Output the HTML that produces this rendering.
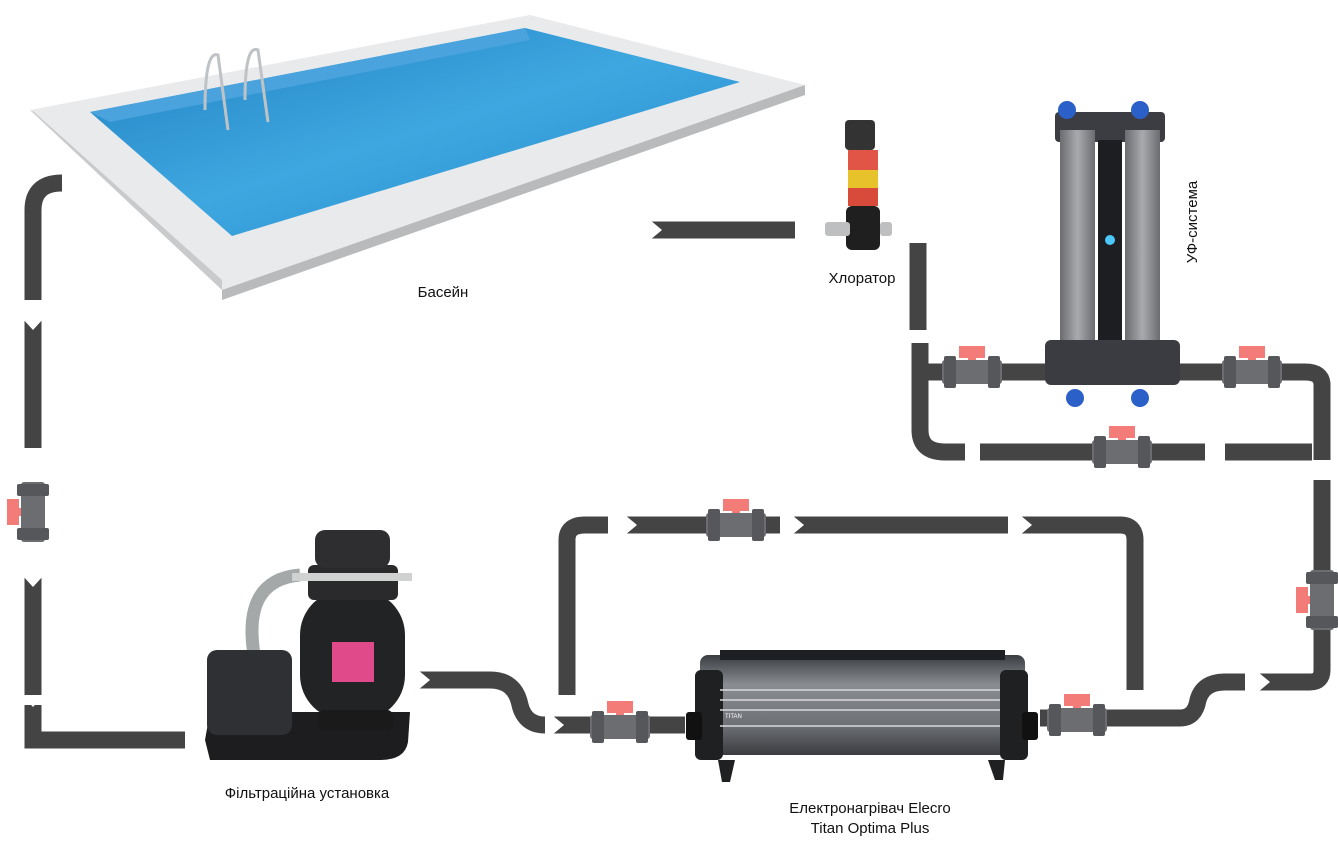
<!DOCTYPE html>
<html><head><meta charset="utf-8"><style>
html,body{margin:0;padding:0;background:#fff;}
svg{display:block}
text{font-family:"Liberation Sans",sans-serif;fill:#111;font-size:15px}
</style></head><body>
<svg width="1338" height="850" viewBox="0 0 1338 850" xmlns="http://www.w3.org/2000/svg">
<defs>
<linearGradient id="water" x1="0" y1="0" x2="1" y2="1"><stop offset="0" stop-color="#1e7fc0"/><stop offset="0.5" stop-color="#3fa7e0"/><stop offset="1" stop-color="#1f86c8"/></linearGradient>
<linearGradient id="heat" x1="0" y1="0" x2="0" y2="1"><stop offset="0" stop-color="#3a3d42"/><stop offset="0.3" stop-color="#8a8d92"/><stop offset="0.7" stop-color="#6d7075"/><stop offset="1" stop-color="#3a3c40"/></linearGradient>
<linearGradient id="tube" x1="0" y1="0" x2="1" y2="0"><stop offset="0" stop-color="#6a6c70"/><stop offset="0.5" stop-color="#a8aaae"/><stop offset="1" stop-color="#6a6c70"/></linearGradient>
<g id="valve"><rect x="-13" y="-26" width="26" height="12" fill="#f47c78"/><rect x="-4" y="-16" width="8" height="10" fill="#f47c78"/><rect x="-30" y="-12" width="60" height="24" rx="3" fill="#6b6d70"/><rect x="-28" y="-16" width="12" height="32" rx="2" fill="#55575a"/><rect x="16" y="-16" width="12" height="32" rx="2" fill="#55575a"/></g>
<g id="vvalve"><rect x="-26" y="-13" width="12" height="26" fill="#f47c78"/><rect x="-16" y="-4" width="10" height="8" fill="#f47c78"/><rect x="-12" y="-30" width="24" height="60" rx="3" fill="#6b6d70"/><rect x="-16" y="-28" width="32" height="12" rx="2" fill="#55575a"/><rect x="-16" y="16" width="32" height="12" rx="2" fill="#55575a"/></g>
</defs>

<!-- Pool -->
<polygon points="30,110 530,15 805,85 222,290" fill="#e8eaec"/>
<polygon points="30,110 222,290 222,280 34,112" fill="#c8cacc"/>
<polygon points="222,290 805,85 805,95 222,300" fill="#b8babc"/>
<polygon points="90,112 525,28 740,82 232,236" fill="url(#water)"/>
<polygon points="90,112 525,28 530,40 110,122" fill="#4aa3dc"/>
<g stroke="#bfc3c6" stroke-width="3" fill="none"><path d="M205,110 Q205,50 218,55 L228,130"/><path d="M245,100 Q245,44 258,50 L268,122"/></g>

<!-- Pipes -->
<g stroke="#444" stroke-width="17" fill="none">
<path d="M62,183 Q33,183 33,210 L33,300"/>
<path d="M33,318 L33,448"/>
<path d="M33,575 L33,695"/>
<path d="M33,705 L33,740 L185,740"/>
<path d="M418,680 L490,680 Q515,680 520,705 Q525,725 545,725"/>
<path d="M552,725 L590,725"/><path d="M648,725 L685,725"/>
<path d="M567,695 L567,540 Q567,525 585,525 L608,525"/>
<path d="M625,525 L780,525"/><path d="M792,525 L1008,525"/>
<path d="M1020,525 L1120,525 Q1135,525 1135,540 L1135,690"/>
<path d="M1040,718 L1180,718 Q1195,718 1198,700 Q1203,682 1225,682 L1245,682"/>
<path d="M1258,682 L1310,682 Q1322,682 1322,670 L1322,630"/>
<path d="M1322,570 L1322,480"/>
<path d="M1322,460 L1322,385 Q1322,372 1305,372 L1045,372"/>
<path d="M920,372 L1045,372"/>
<path d="M1312,452 L1225,452"/><path d="M1205,452 L980,452"/><path d="M965,452 L945,452 Q920,452 920,430 L920,343"/>
<path d="M918,330 L918,243"/>
<path d="M795,230 L650,230"/>
</g>
<!-- chevron white notches -->
<g fill="#fff">
<polygon points="22,300 44,300 33,312"/>
<polygon points="22,318 44,318 33,330"/>
<polygon points="22,695 44,695 33,707"/>
<polygon points="22,575 44,575 33,587"/>
<polygon points="608,515 608,535 620,525"/><polygon points="625,515 625,535 637,525"/>
<polygon points="780,515 780,535 792,525"/><polygon points="792,515 792,535 804,525"/>
<polygon points="1008,515 1008,535 1020,525"/><polygon points="1020,515 1020,535 1032,525"/>
<polygon points="1245,672 1245,692 1257,682"/>
<polygon points="1258,672 1258,692 1270,682"/>
<polygon points="980,442 980,462 968,452"/><polygon points="1225,442 1225,462 1213,452"/>
<polygon points="908,343 930,343 920,331"/>
<polygon points="650,220 650,240 662,230"/>
<polygon points="418,670 418,690 430,680"/>
<polygon points="552,715 552,735 564,725"/>
</g>
<polygon points="795,219 795,241 807,230" fill="#fff"/>

<!-- Valves -->
<use href="#vvalve" x="33" y="512"/>
<use href="#vvalve" x="1322" y="600"/>
<use href="#valve" x="620" y="727"/>
<use href="#valve" x="736" y="525"/>
<use href="#valve" x="1077" y="720"/>
<use href="#valve" x="972" y="372"/>
<use href="#valve" x="1252" y="372"/>
<use href="#valve" x="1122" y="452"/>

<!-- Filter -->
<path d="M255,660 Q240,580 300,575" stroke="#a5a8a8" stroke-width="13" fill="none"/>
<path d="M205,740 L210,712 L410,712 L408,742 Q405,760 380,760 L210,760 Z" fill="#1d1d1f"/>
<rect x="207" y="650" width="85" height="85" rx="10" fill="#2e3033"/>
<rect x="300" y="590" width="105" height="130" rx="45" fill="#222325"/>
<rect x="308" y="565" width="90" height="35" rx="6" fill="#2a2a2c"/>
<rect x="315" y="530" width="75" height="38" rx="10" fill="#2e2e30"/>
<rect x="292" y="573" width="120" height="8" fill="#d0d2d2"/>
<rect x="332" y="642" width="42" height="40" fill="#e04a8a"/>
<rect x="318" y="710" width="75" height="20" rx="6" fill="#1a1a1a"/>

<!-- Heater -->
<rect x="700" y="655" width="325" height="100" rx="8" fill="url(#heat)"/>
<rect x="695" y="670" width="28" height="90" rx="6" fill="#1f2022"/>
<rect x="1000" y="670" width="28" height="90" rx="6" fill="#1f2022"/>
<rect x="686" y="712" width="16" height="28" rx="3" fill="#111"/>
<rect x="1022" y="712" width="16" height="28" rx="3" fill="#111"/>
<g stroke="#d8dadc" stroke-width="1.5"><line x1="720" y1="690" x2="1000" y2="690"/><line x1="720" y1="700" x2="1000" y2="700"/><line x1="720" y1="710" x2="1000" y2="710"/><line x1="720" y1="726" x2="1000" y2="726"/></g>
<polygon points="718,760 735,760 730,782 722,782" fill="#1f2022"/>
<polygon points="988,760 1005,760 1003,780 995,780" fill="#1f2022"/>
<rect x="720" y="650" width="285" height="10" fill="#1e1f22"/>
<text x="725" y="718" style="font-size:6px;fill:#fff">TITAN</text>

<!-- Chlorinator -->
<rect x="845" y="120" width="30" height="30" rx="4" fill="#333"/>
<rect x="848" y="150" width="30" height="20" fill="#e05545"/>
<rect x="848" y="170" width="30" height="18" fill="#e8c22a"/>
<rect x="848" y="188" width="30" height="18" fill="#d84a3a"/>
<rect x="846" y="206" width="34" height="44" rx="6" fill="#1f1f1f"/>
<rect x="825" y="222" width="25" height="14" rx="3" fill="#bdbfc0"/>
<rect x="880" y="222" width="12" height="14" rx="3" fill="#bdbfc0"/>

<!-- UV -->
<rect x="1055" y="112" width="110" height="30" rx="4" fill="#3b3d42"/>
<rect x="1060" y="130" width="35" height="215" fill="url(#tube)"/>
<rect x="1125" y="130" width="35" height="215" fill="url(#tube)"/>
<rect x="1098" y="140" width="24" height="210" fill="#1d1e22"/>
<circle cx="1110" cy="240" r="5" fill="#4cc8ff"/>
<rect x="1045" y="340" width="135" height="45" rx="6" fill="#3a3c42"/>
<circle cx="1067" cy="110" r="9" fill="#2a60c8"/><circle cx="1140" cy="110" r="9" fill="#2a60c8"/>
<circle cx="1075" cy="398" r="9" fill="#2a60c8"/><circle cx="1140" cy="398" r="9" fill="#2a60c8"/>

<!-- Labels -->
<text x="443" y="297" text-anchor="middle">Басейн</text>
<text x="862" y="283" text-anchor="middle">Хлоратор</text>
<text transform="translate(1197,222) rotate(-90)" text-anchor="middle">УФ-система</text>
<text x="307" y="798" text-anchor="middle">Фільтраційна установка</text>
<text x="870" y="813" text-anchor="middle">Електронагрівач Elecro</text>
<text x="870" y="833" text-anchor="middle">Titan Optima Plus</text>
</svg>
</body></html>
